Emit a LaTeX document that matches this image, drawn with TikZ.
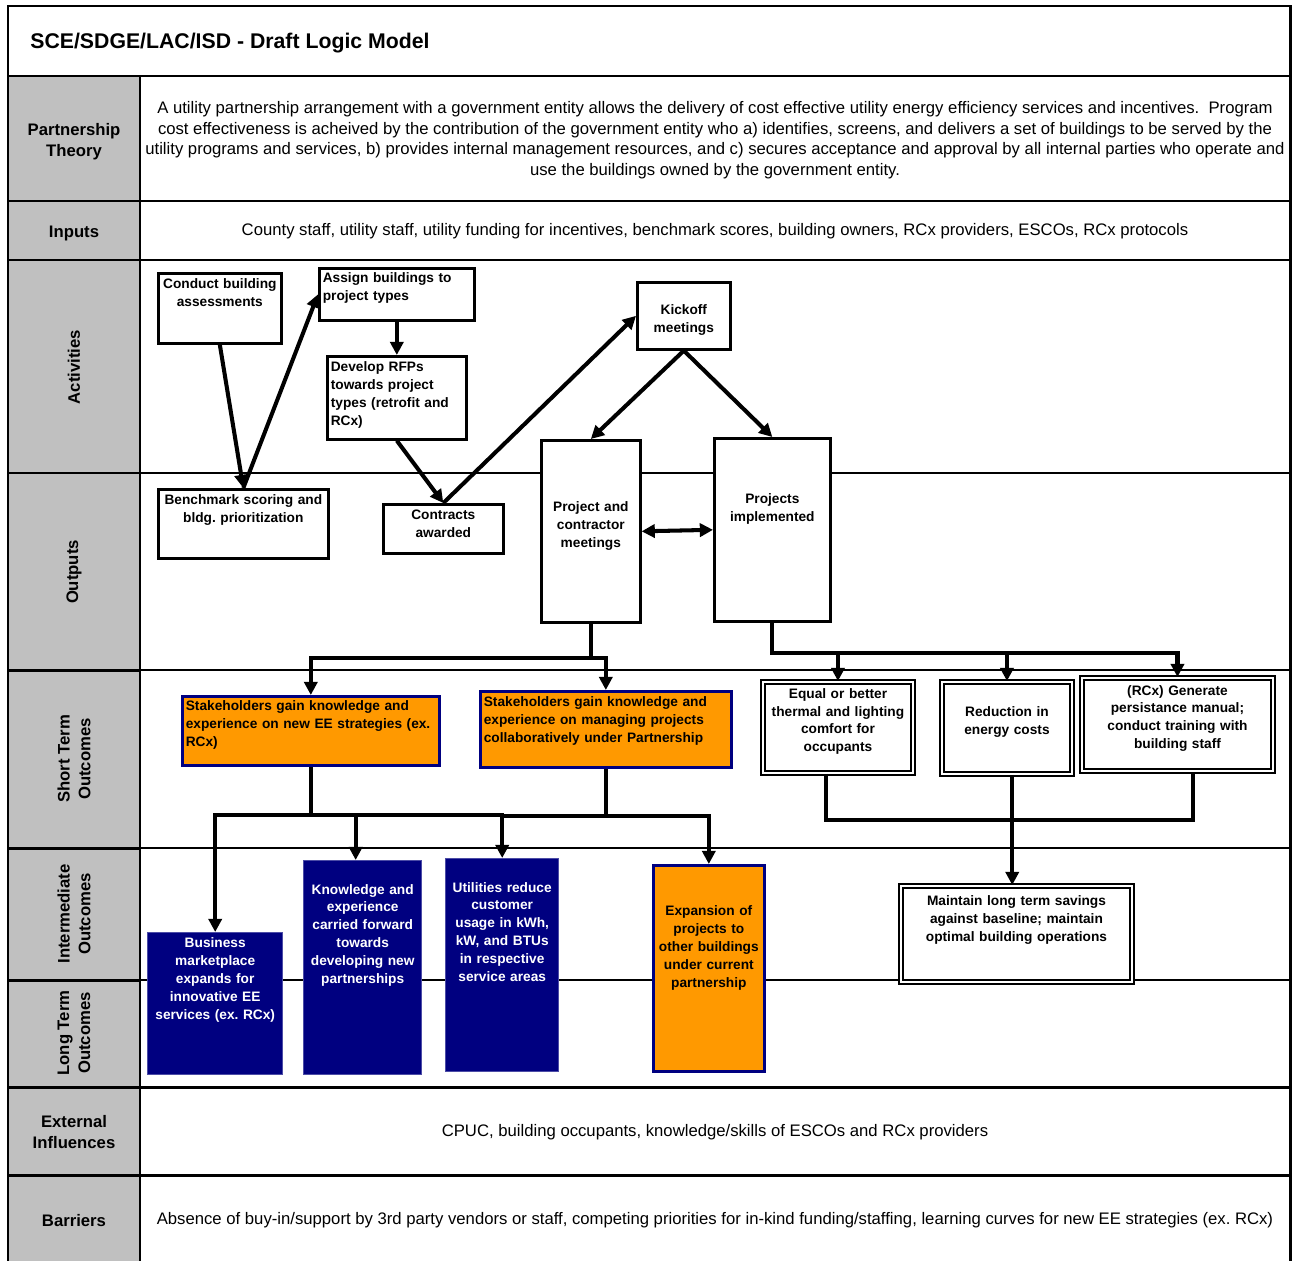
\documentclass[tikz,border=0pt]{standalone}
\usepackage{fontspec}
\setmainfont{Liberation Sans}
\usetikzlibrary{arrows.meta}
\definecolor{lmgray}{HTML}{C0C0C0}
\definecolor{lmorange}{HTML}{FF9900}
\definecolor{lmnavy}{HTML}{000080}
\newcommand{\pix}{0.02cm}
\frenchspacing
\begin{document}
\begin{tikzpicture}[x=0.02cm, y=-0.02cm,
  >={Triangle[length=7.5pt,width=7.5pt]},
  rowline/.style={line width=1.1pt},
  heavyline/.style={line width=1.7pt},
  rowlabel/.style={font=\fontsize{9.5}{11.9}\selectfont\bfseries, align=center},
  bodytext/.style={font=\fontsize{9.5}{11.7}\selectfont, align=center},
  box/.style={draw, line width=1.5pt, fill=white, anchor=north west, inner xsep=2pt, inner ysep=2pt,
    font=\fontsize{7.8}{10.2}\selectfont\bfseries},
  dbox/.style={box, line width=1.1pt, double, double distance=0.9pt},
  obox/.style={box, fill=lmorange, draw=lmnavy},
  nbox/.style={box, fill=lmnavy, draw=lmnavy!70!white, line width=0.8pt, text=white},
  sz/.style 2 args={minimum width=#1*\pix, minimum height=#2*\pix, text width=#1*\pix-4pt},
  tb/.style 2 args={text height=#1, text depth=#2},
  flow/.style={line width=2.3pt, ->},
  bus/.style={line width=2.3pt}]
\useasboundingbox (0,0) rectangle (1293,1260);
% table frame
\fill[lmgray] (8,76) rectangle (140,1262);
\draw[rowline] (140,473) -- (1290,473);
\draw[rowline] (140,670) -- (1290,670);
\draw[rowline] (140,848) -- (1290,848);
\draw[rowline] (140,980) -- (1290,980);
\draw[heavyline] (8,473) -- (140,473);
\draw[heavyline] (8,670) -- (140,670);
\draw[heavyline] (8,848) -- (140,848);
\draw[heavyline] (8,980) -- (140,980);
\draw[heavyline] (8,76) -- (1290,76);
\draw[heavyline] (8,201) -- (1290,201);
\draw[heavyline] (8,260) -- (1290,260);
\draw[heavyline] (8,1087) -- (1290,1087);
\draw[heavyline] (8,1175) -- (1290,1175);
\draw[heavyline] (140,76) -- (140,1262);
\draw[heavyline] (8,1262) -- (8,6) -- (1290,6) -- (1290,1262);
\node[font=\fontsize{12.1}{14}\selectfont\bfseries, anchor=west, inner sep=0pt] (title) at (30,43) {SCE/SDGE/LAC/ISD - Draft Logic Model};
% row labels
\node[rowlabel] (ptlab) at (74,142) {Partnership\\Theory};
\node[rowlabel] (inlab) at (74,233) {Inputs};
\node[rowlabel, rotate=90] (aclab) at (74,367) {Activities};
\node[rowlabel, rotate=90] (oulab) at (74,572) {Outputs};
\node[rowlabel, rotate=90] (stlab) at (74,759) {Short Term\\Outcomes};
\node[rowlabel, rotate=90] (itlab) at (74,914) {Intermediate\\Outcomes};
\node[rowlabel, rotate=90] (ltlab) at (74,1033) {Long Term\\Outcomes};
\node[rowlabel] (exlab) at (74,1132) {External\\Influences};
\node[rowlabel] (balab) at (74,1221) {Barriers};
% row texts
\node[bodytext] (pttxt) at (715,140) {A utility partnership arrangement with a government entity allows the delivery of cost effective utility energy efficiency services and incentives.~ Program\\cost effectiveness is acheived by the contribution of the government entity who a) identifies, screens, and delivers a set of buildings to be served by the\\utility programs and services, b) provides internal management resources, and c) secures acceptance and approval by all internal parties who operate and\\use the buildings owned by the government entity.};
\node[bodytext] (intxt) at (715,231) {County staff, utility staff, utility funding for incentives, benchmark scores, building owners, RCx providers, ESCOs, RCx protocols};
\node[bodytext] (extxt) at (715,1132) {CPUC, building occupants, knowledge/skills of ESCOs and RCx providers};
\node[bodytext] (batxt) at (715,1220) {Absence of buy-in/support by 3rd party vendors or staff, competing priorities for in-kind funding/staffing, learning curves for new EE strategies (ex. RCx)};
% activities and outputs
\node[box, sz={123}{70}, tb={6.5pt}{29.2pt}, align=center] (con) at (157,272) {Conduct building\\assessments};
\node[box, sz={155}{52}, tb={5.9pt}{19.6pt}, align=left] (asg) at (318,267) {Assign buildings to\\project types};
\node[box, sz={139}{83}, tb={6.5pt}{36.6pt}, align=left] (rfp) at (326,355) {Develop RFPs\\towards project\\types (retrofit and\\RCx)};
\node[box, sz={93}{67}, tb={16.1pt}{17.9pt}, align=center] (kick) at (636,281) {Kickoff\\meetings};
\node[box, sz={99}{182}, tb={38.3pt}{60.9pt}, align=center] (pcm) at (540,439) {Project and\\contractor\\meetings};
\node[box, sz={116}{183}, tb={34.9pt}{64.8pt}, align=center] (pim) at (713,437) {Projects\\implemented};
\node[box, sz={170}{69}, tb={6.5pt}{28.6pt}, align=center] (ben) at (157,488) {Benchmark scoring and\\bldg. prioritization};
\node[box, sz={120}{49}, tb={6.5pt}{17.3pt}, align=center] (ctr) at (382,503) {Contracts\\awarded};
% short term outcomes
\node[obox, sz={257}{69}, tb={5.9pt}{29.2pt}, align=left] (sk1) at (181,695) {Stakeholders gain knowledge and\\experience on new EE strategies (ex.\\RCx)};
\node[obox, sz={251}{76}, tb={6.5pt}{32.6pt}, align=left] (sk2) at (479,690) {Stakeholders gain knowledge and\\experience on managing projects\\collaboratively under Partnership};
\node[dbox, sz={150}{91}, tb={7.1pt}{40.5pt}, align=center] (eqb) at (762,681) {Equal or better\\thermal and lighting\\comfort for\\occupants};
\node[dbox, sz={130}{92}, tb={17.8pt}{30.4pt}, align=center] (red) at (941,681) {Reduction in\\energy costs};
\node[dbox, sz={191}{93}, tb={7.6pt}{41.1pt}, align=center] (rcx) at (1081,677) {(RCx) Generate\\persistance manual;\\conduct training with\\building staff};
% intermediate and long term outcomes
\node[nbox, sz={135}{142}, tb={6.5pt}{70pt}, align=center] (biz) at (147,932) {Business\\marketplace\\expands for\\innovative EE\\services (ex. RCx)};
\node[nbox, sz={118}{214}, tb={16.7pt}{100.6pt}, align=center] (knw) at (303,860) {Knowledge and\\experience\\carried forward\\towards\\developing new\\partnerships};
\node[nbox, sz={113}{213}, tb={16.7pt}{100pt}, align=center] (utl) at (445,858) {Utilities reduce\\customer\\usage in kWh,\\kW, and BTUs\\in respective\\service areas};
\node[obox, sz={111}{206}, tb={26.3pt}{86.5pt}, align=center] (exp) at (652,864) {Expansion of\\projects to\\other buildings\\under current\\partnership};
\node[dbox, sz={231}{96}, tb={8.8pt}{41.6pt}, align=center] (mnt) at (900,885) {Maintain long term savings\\against baseline; maintain\\optimal building operations};
% connectors
\draw[flow] (con.south) -- (ben.north);
\draw[flow] (ben.north) -- (asg.west);
\draw[flow] (asg.south) -- (rfp.north);
\draw[flow] (rfp.south) -- (ctr.north);
\draw[flow] (ctr.north) -- (kick.west);
\draw[flow] (kick.south) -- (pcm.north);
\draw[flow] (kick.south) -- (pim.north);
\draw[flow, <->] (pcm.east) -- (pim.west);
\draw[flow] (pcm.south) -- ++(0,34) coordinate (b1) -| (sk1.north);
\draw[flow] (b1) -| (sk2.north);
\draw[flow] (pim.south) -- ++(0,30) coordinate (b2) -| (eqb.north);
\draw[flow] (b2) -| (red.north);
\draw[flow] (b2) -| (rcx.north);
\draw[flow] (sk1.south) -- ++(0,48) coordinate (b3) -| (biz.north);
\draw[flow] (b3) -| ([xshift=-4pt]knw.north);
\draw[flow] (b3) -| (utl.north);
\draw[flow] (sk2.south) -- ++(0,47) coordinate (b4) -| (exp.north);
\draw[bus] (b4) -- (b4 -| utl.north);
\draw[bus] ([xshift=-7pt]eqb.south) -- ++(0,46) coordinate (b5) -| ([xshift=9pt]rcx.south);
\coordinate (r1) at ([xshift=3pt]red.south);
\draw[flow] (r1) -- (r1 |- mnt.north);
\end{tikzpicture}
\end{document}
